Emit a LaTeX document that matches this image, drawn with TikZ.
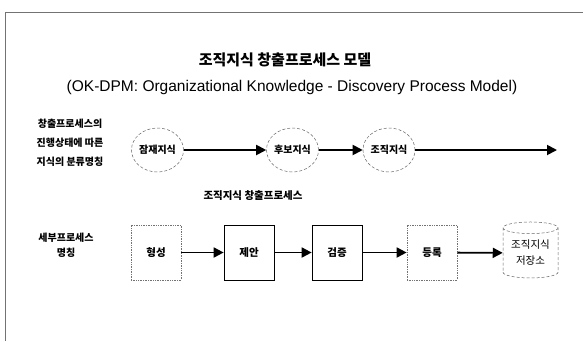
\documentclass[tikz,border=0pt]{standalone}
\usepackage{fontspec}
\setmainfont{Liberation Sans}
\newfontfamily\kr{Noto Sans CJK KR}
\usetikzlibrary{arrows.meta,shapes.geometric}
\begin{document}
\begin{tikzpicture}[x=1pt,y=-1pt,
  lbl/.style={font=\kr\bfseries\fontsize{10}{19}\selectfont, align=center, inner sep=0pt},
  knode/.style={ellipse, draw=black!60, densely dashed, line width=0.5pt, minimum width=49pt, minimum height=44pt, inner sep=0pt, font=\kr\bfseries\fontsize{10}{11}\selectfont},
  pbox/.style={rectangle, draw=black, line width=0.7pt, minimum width=50pt, minimum height=55pt, inner sep=0pt, font=\kr\bfseries\fontsize{10.5}{11}\selectfont},
  lightbox/.style={pbox, draw=black!55, densely dotted},
  store/.style={cylinder, shape border rotate=90, aspect=0.3, draw=black!60, densely dashed, line width=0.5pt, minimum width=55pt, minimum height=56pt, inner sep=0pt, align=center, font=\kr\fontsize{10.5}{16}\selectfont},
  flow/.style={-{Triangle[length=10pt,width=10pt]}, line width=1.8pt}
]
\useasboundingbox (0,0) rectangle (583,341);
\fill[white] (0,0) rectangle (583,341);
\draw[black!55, line width=0.6pt] (5,341) -- (5,12) -- (583,12);

\node[font=\kr\bfseries\fontsize{15}{17}\selectfont, inner sep=0pt] (title) at (285,60) {조직지식 창출프로세스 모델};
\node[font=\fontsize{15.5}{17}\selectfont, inner sep=0pt] (sub) at (292,87) {(OK-DPM: Organizational Knowledge - Discovery Process Model)};

\node[lbl] (l1) at (70,143) {창출프로세스의\\진행상태에 따른\\지식의 분류명칭};
\node[lbl, font=\kr\bfseries\fontsize{10}{15}\selectfont] (l2) at (66,245.5) {세부프로세스\\명칭};
\node[font=\kr\bfseries\fontsize{10.5}{12}\selectfont, inner sep=0pt] (mid) at (253,196) {조직지식 창출프로세스};

\node[knode] (k1) at (157.5,150) {잠재지식};
\node[knode] (k2) at (292.5,150) {후보지식};
\node[knode] (k3) at (389,150) {조직지식};
\coordinate (kend) at (557,150);

\node[lightbox] (p1) at (156,252.5) {형성};
\node[pbox] (p2) at (249,252.5) {제안};
\node[pbox] (p3) at (337,252.5) {검증};
\node[lightbox] (p4) at (432,252.5) {등록};
\node[store] (st) at (530.5,253) {조직지식\\저장소};

\draw[flow] (k1) -- (k2);
\draw[flow] (k2) -- (k3);
\draw[flow] (k3) -- (kend);

\draw[flow] (p1) -- (p2);
\draw[flow] (p2) -- (p3);
\draw[flow] (p3) -- (p4);
\draw[flow] (p4) -- (st);
\end{tikzpicture}
\end{document}
